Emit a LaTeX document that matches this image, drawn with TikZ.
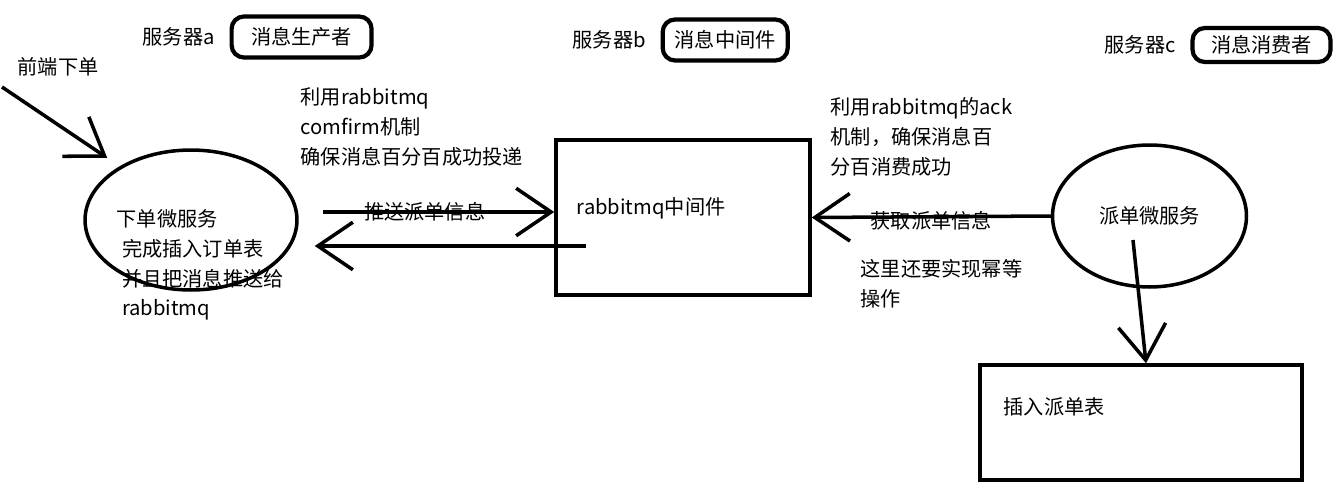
\documentclass[tikz,border=0pt]{standalone}
\usepackage{fontspec}
\setmainfont{Noto Sans CJK SC}
\usetikzlibrary{arrows.meta,positioning,shapes.geometric}

\begin{document}
\begin{tikzpicture}[x=0.02cm, y=-0.02cm, line width=2pt,
  font=\fontsize{11.5pt}{17pt}\selectfont,
  txt/.style={inner sep=0pt, align=left, anchor=west},
  rolebox/.style={draw, line width=2.4pt, rounded corners=7pt, minimum width=#1, minimum height=0.82cm, inner sep=2pt},
  svc/.style={draw, ellipse, inner sep=0pt},
  box/.style={draw, rectangle, inner sep=0pt},
  barb/.style={-{Straight Barb[length=0.7cm, width=0.95cm]}}]

\useasboundingbox (0,0) rectangle (1342,491);

%--------------------
% Header: servers and roles
%--------------------
\node[txt] (srvA) at (141,37) {服务器a};
\node[rolebox=2.8cm, right=0.26cm of srvA] (roleA) {消息生产者};

\node[txt] (srvB) at (571,40) {服务器b};
\node[rolebox=2.5cm, right=0.26cm of srvB] (roleB) {消息中间件};

\node[txt] (srvC) at (1103,45) {服务器c};
\node[rolebox=2.76cm, minimum height=0.68cm, right=0.26cm of srvC] (roleC) {消息消费者};

%--------------------
% Left: order service (producer)
%--------------------
\node[txt] (frontTxt) at (16,67) {前端下单};
\coordinate (frontEnd) at (2,87);

\node[svc, minimum width=4.24cm, minimum height=2.8cm] (orderSvc) at (191,220) {};
\node[txt] (orderTxt) at (115,265) {下单微服务\\\hspace{3pt}完成插入订单表\\\hspace{3pt}并且把消息推送给\\\hspace{3pt}rabbitmq};

\node[txt] (confirmTxt) at (299,127) {利用rabbitmq\\comfirm机制\\确保消息百分百成功投递};

%--------------------
% Middle: broker
%--------------------
\node[box, minimum width=5.08cm, minimum height=3.1cm] (mq) at (683,217.5) {};
\node[txt] (mqTxt) at (575,208) {rabbitmq中间件};

%--------------------
% Right: dispatch service (consumer)
%--------------------
\node[txt] (ackTxt) at (829,137) {利用rabbitmq的ack\\机制，确保消息百\\分百消费成功};
\node[svc, minimum width=3.88cm, minimum height=2.84cm] (dispatchSvc) at (1149.5,216) {派单微服务};
\node[txt] (idemTxt) at (859,284) {这里还要实现幂等\\操作};

\node[box, minimum width=6.44cm, minimum height=2.3cm] (table) at (1141,422.5) {};
\node[txt] (tableTxt) at (1002,407) {插入派单表};

%--------------------
% Connectors
%--------------------
\draw[barb, shorten >=0.3cm] (frontEnd) -- (orderSvc.143);

\coordinate (pushFrom) at (323,212);
\draw[barb] (pushFrom) -- node[pos=0.44, inner sep=0pt] (pushLbl) {推送派单信息} (pushFrom -| mq.west);

\coordinate (backFrom) at (586,246);
\draw[barb, shorten >=0.32cm] (backFrom) -- (backFrom -| orderSvc.east);

\draw[barb] (dispatchSvc.west) -- node[inner sep=0pt, yshift=-0.08cm] (fetchLbl) {获取派单信息} (mq.east);

\coordinate (insertFrom) at (1133,240);
\draw[barb] (insertFrom) -- ([xshift=0.1cm]table.north);

\end{tikzpicture}
\end{document}
